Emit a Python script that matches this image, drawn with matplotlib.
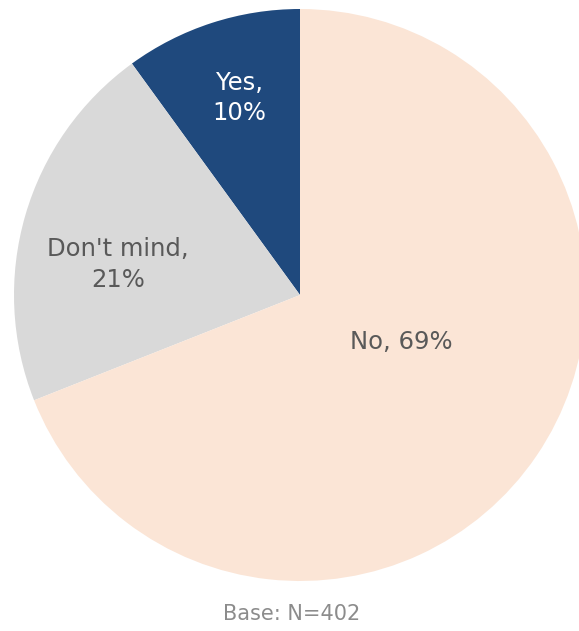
import matplotlib.pyplot as plt
import numpy as np

labels = ["Yes,\n10%", "Don't mind,\n21%", "No, 69%"]
shares = [10, 21, 69]
colors = ["#1F497D", "#D9D9D9", "#FBE5D6"]
text_colors = ["white", "#595959", "#595959"]
# label spots (radius, angle in degrees) picked to match the original
label_pos = [(0.72, 107), (0.645, 170.5), (0.39, -25)]

plt.rcParams["font.family"] = ["DejaVu Sans"]

fig = plt.figure(figsize=(5.79, 6.31), dpi=100)
ax = fig.add_axes([14 / 579, 50 / 631, 572 / 579, 572 / 631])

wedges, _ = ax.pie(shares, colors=colors, startangle=90, counterclock=True,
                   radius=1, wedgeprops=dict(linewidth=0))
ax.set_xlim(-1, 1)
ax.set_ylim(-1, 1)
ax.set_aspect("equal")
ax.axis("off")

for lab, (r, a), c in zip(labels, label_pos, text_colors):
    t = np.deg2rad(a)
    ax.text(r * np.cos(t), r * np.sin(t), lab, ha="center", va="center",
            fontsize=17.5, color=c, linespacing=1.35)

fig.text(292 / 579, 1 - 614 / 631, "Base: N=402", ha="center", va="center",
         fontsize=15, color="#8C8C8C")

fig.savefig("out.png", dpi=100)
